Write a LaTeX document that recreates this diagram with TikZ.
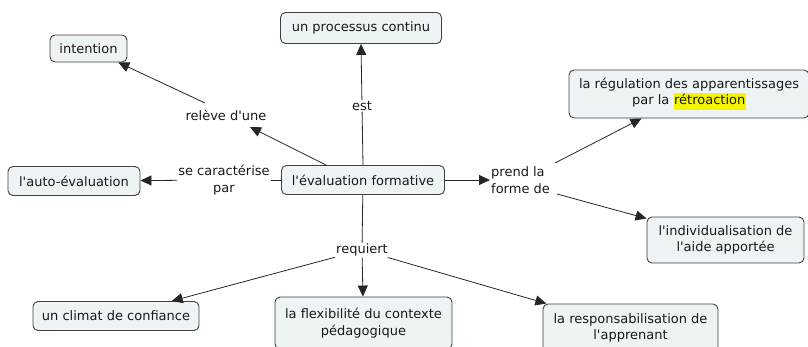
\documentclass[tikz,border=0pt]{standalone}
\usepackage{fontspec}
\setmainfont[Ligatures=TeXOff]{DejaVu Sans}
\usetikzlibrary{arrows.meta}
\definecolor{boxfill}{HTML}{EEF3F6}
\definecolor{boxline}{HTML}{404040}
\definecolor{hl}{HTML}{F5F500}
\tikzset{
  concept/.style={draw=boxline, fill=boxfill, rounded corners=5pt, line width=0.9pt,
    align=center, inner sep=2pt, font=\fontsize{13}{16.5}\selectfont, text=black!90},
  lbl/.style={align=center, inner sep=1pt, font=\fontsize{13}{16.5}\selectfont, text=black!90},
  link/.style={line width=0.8pt, draw=black!85},
  arr/.style={link, -{Triangle[length=11pt, width=10pt]}},
}
\begin{document}
\begin{tikzpicture}[x=1pt, y=-1pt]
\useasboundingbox (0,0) rectangle (808,346);
% concepts
\node[concept, minimum width=163pt, minimum height=29pt] (ef) at (363,180) {l'évaluation formative};
\node[concept, minimum width=161pt, minimum height=31pt] (pc) at (361,28) {un processus continu};
\node[concept, minimum width=77pt, minimum height=27pt] (in) at (88.5,48.5) {intention};
\node[concept, minimum width=132pt, minimum height=29pt] (ae) at (74,181) {l'auto-évaluation};
\node[concept, minimum width=240pt, minimum height=48pt] (rg) at (689,94) {la régulation des apparentissages\\par la {\fboxsep=0.6pt\colorbox{hl}{\strut rétroaction}}};
\node[concept, minimum width=157pt, minimum height=46pt] (id) at (725.5,240) {l'individualisation de\\l'aide apportée};
\node[concept, minimum width=166pt, minimum height=29pt] (cc) at (116,316) {un climat de confiance};
\node[concept, minimum width=177pt, minimum height=52pt] (fx) at (363.5,323) {la flexibilité du contexte\\pédagogique};
\node[concept, minimum width=175pt, minimum height=48pt] (rs) at (630.5,328) {la responsabilisation de\\l'apprenant};
% link labels
\node[lbl] (est) at (362,106) {est};
\node[lbl] (rel) at (226,115) {relève d'une};
\node[lbl] (car) at (224,180) {se caractérise\\par};
\node[lbl, align=left, anchor=west] (pr) at (490,180) {prend la\\forme de};
\node[lbl] (rq) at (362,250) {requiert};
% connector end points
\coordinate (efnw) at (326,165);
\coordinate (relA) at (250,127);
\coordinate (relB) at (205,103);
\coordinate (prA) at (555,163);
\coordinate (prB) at (557,194);
% connectors
\draw[link] (ef.north) -- (est);
\draw[arr] (est) -- (pc.south);
\draw[arr] (efnw) -- (relA);
\draw[arr] (relB) -- (in);
\draw[link] (ef) -- (car);
\draw[arr] (car) -- (ae);
\draw[arr] (ef) -- (pr);
\draw[arr] (prA) -- (rg);
\draw[arr] (prB) -- (id);
\draw[link] (ef) -- (rq);
\draw[arr] (rq) -- (cc);
\draw[arr] (rq) -- (fx);
\draw[arr] (rq) -- (rs);
\end{tikzpicture}
\end{document}
